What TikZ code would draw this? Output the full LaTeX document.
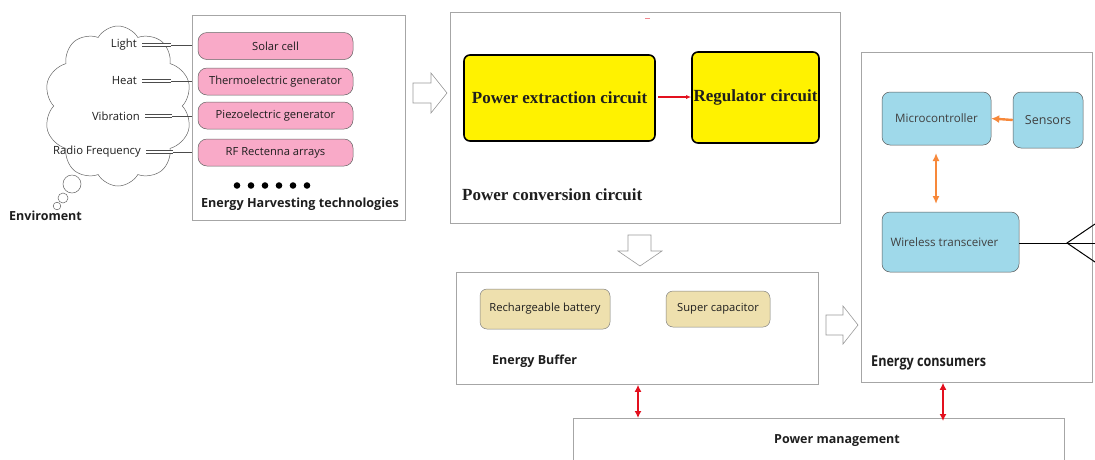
\documentclass[tikz,border=0pt]{standalone}
\usepackage{fontspec}
\setmainfont{Open Sans}
\newfontfamily\serifbold{Liberation Serif}
\newfontfamily\condsans[FakeStretch=0.84]{Open Sans}
\usetikzlibrary{shapes.symbols,arrows.meta,calc}
\definecolor{pinkfill}{HTML}{F9AAC8}
\definecolor{yellowfill}{HTML}{FFF200}
\definecolor{bluefill}{HTML}{9FD9EA}
\definecolor{tanfill}{HTML}{EEE0AE}
\definecolor{panelline}{HTML}{A6A6A6}
\definecolor{txt}{HTML}{1E1E1E}
\definecolor{orangearrow}{HTML}{F7883A}
\definecolor{redarrow}{HTML}{E3101E}
\tikzset{
  panel/.style={draw=panelline, line width=0.8pt, inner sep=0pt, anchor=north west},
  pinkbox/.style={draw=gray!80!black, line width=0.5pt, fill=pinkfill, rounded corners=9pt,
    minimum width=155pt, minimum height=27pt, inner sep=0pt, font=\fontsize{11.2}{13}\selectfont, text=txt},
  yellowbox/.style={draw=black, line width=1.6pt, fill=yellowfill, rounded corners=6pt, inner sep=0pt,
    font=\serifbold\bfseries\fontsize{17}{19}\selectfont, text=txt},
  bluebox/.style={draw=gray!70!black, line width=0.5pt, fill=bluefill, rounded corners=8pt, inner sep=0pt,
    font=\fontsize{11.6}{13}\selectfont, text=txt!85},
  tanbox/.style={draw=gray!60!black!70, line width=0.5pt, fill=tanfill, rounded corners=7pt, inner sep=0pt,
    font=\fontsize{11.2}{13}\selectfont, text=txt},
  srclabel/.style={anchor=east, inner sep=0pt, font=\fontsize{11.3}{13}\selectfont, text=txt},
  boldlabel/.style={inner sep=0pt, font=\bfseries\fontsize{12.5}{14}\selectfont, text=txt},
  hollow/.style={draw=gray!80, line width=0.6pt, fill=white},
  feed/.style={draw=gray!60!black, line width=0.6pt, double=white, double distance=2pt},
  redlink/.style={draw=redarrow, line width=2.2pt, {Latex[length=7pt,width=7pt]}-{Latex[length=7pt,width=7pt]}},
  orangelink/.style={draw=orangearrow, line width=2.4pt},
}
\begin{document}
\begin{tikzpicture}[x=1pt,y=-1pt]
\useasboundingbox (0,0) rectangle (1095,459);
\clip (0,0) rectangle (1095,459);
\fill[white] (0,0) rectangle (1095,459);

% ---------------- environment cloud ----------------
\node[cloud, cloud puffs=10, cloud puff arc=120, aspect=0.85, draw=gray!80!black, line width=0.5pt,
  minimum width=148pt, minimum height=160pt] (cloud) at (118,106) {};
\draw[gray!80!black, line width=0.5pt] (72,184) circle (9);
\draw[gray!80!black, line width=0.5pt] (63,198) circle (5);
\draw[gray!80!black, line width=0.5pt] (57,206) circle (3.8);
\node[boldlabel, anchor=west] (env) at (9,216) {Enviroment};

\node[srclabel] (light) at (137,45) {Light};
\node[srclabel] (heat) at (137,81) {Heat};
\node[srclabel] (vib) at (140,116) {Vibration};
\node[srclabel] (rf) at (141,152) {Radio Frequency};

% ---------------- harvesting panel ----------------
\node[panel, minimum width=213pt, minimum height=205pt] (harv) at (192,15) {};
\node[pinkbox] (solar) at (275.5,46) {Solar cell};
\node[pinkbox] (thermo) at (275.5,81.5) {Thermoelectric generator};
\node[pinkbox] (piezo) at (275.5,115.5) {Piezoelectric generator};
\node[pinkbox] (rfa) at (275.5,152.5) {RF Rectenna arrays};
\foreach \i in {0,...,5}
  \fill[black] (237+14*\i,185.5) circle (3.3);
\node[boldlabel, font=\bfseries\fontsize{12.6}{14}\selectfont] (harvlbl) at (300,204) {Energy Harvesting technologies};

% feed lines from sources into the harvesters
\foreach \s/\t in {light/solar, heat/thermo, vib/piezo, rf/rfa}{
  \coordinate (m\s) at ($(\s.east)!0.62!(\s.east -| harv.west)$);
  \draw[feed] ([xshift=5pt]\s.east) -- (m\s |- \s.east);
  \draw[gray!60!black, line width=0.7pt] (m\s |- \s.east) -- (\s.east -| harv.west);
}

% ---------------- power conversion panel ----------------
\node[panel, minimum width=390pt, minimum height=211pt] (conv) at (450,12) {};
\node[yellowbox, minimum width=191pt, minimum height=86pt] (extract) at (559.5,98) {Power extraction circuit};
\node[yellowbox, minimum width=127pt, minimum height=91pt] (reg) at (755.5,97.5) {Regulator circuit};
\draw[redarrow, line width=1.5pt, -{Latex[length=5pt,width=4pt]}] (658,97) coordinate (rs) -- (reg.west |- rs);
\draw[redarrow!50, line width=0.8pt] (645,18.5) -- (650,18.5);
\node[anchor=west, inner sep=0pt, font=\serifbold\bfseries\fontsize{17}{19}\selectfont, text=txt] (convlbl) at (462,195) {Power conversion circuit};

% ---------------- energy buffer panel ----------------
\node[panel, minimum width=362pt, minimum height=112pt] (buf) at (456,272) {};
\node[tanbox, minimum width=130pt, minimum height=40pt] (batt) at (545,309) {Rechargeable battery};
\node[tanbox, minimum width=104pt, minimum height=36pt] (cap) at (718,309) {Super capacitor};
\node[boldlabel, anchor=west] (buflbl) at (492,361) {Energy Buffer};

% ---------------- energy consumers panel ----------------
\node[panel, minimum width=231pt, minimum height=330pt] (cons) at (861,52) {};
\node[bluebox, minimum width=109pt, minimum height=53pt] (mcu) at (936.5,118.5) {Microcontroller};
\node[bluebox, minimum width=70pt, minimum height=56pt, font=\fontsize{12.5}{14}\selectfont] (sens) at (1048,120) {Sensors};
\node[bluebox, minimum width=137pt, minimum height=60pt] (wt) at (950.5,242) {\hspace*{-12pt}Wireless transceiver};
\node[anchor=west, inner sep=0pt, font=\condsans\bfseries\fontsize{15}{17}\selectfont, text=txt] (conslbl) at (871,363) {Energy consumers};

\draw[orangelink, -{Latex[length=8pt,width=8pt]}] (sens.west) -- (mcu.east);
\draw[orangelink, {Latex[length=8pt,width=7pt]}-{Latex[length=8pt,width=7pt]}] (936,153) coordinate (oa) -- (936,204) coordinate (ob);

% antenna
\coordinate (ant) at (1067,243);
\draw[black, line width=1pt] (wt.east |- ant) -- (1095,243);
\draw[black, line width=1pt] (1095,224) -- (ant) -- (1095,262);

% ---------------- power management ----------------
\node[panel, minimum width=491pt, minimum height=60pt] (pm) at (573,418) {};
\node[boldlabel] (pmlbl) at (837,441) {Power management};

\draw[redlink] (buf.south -| 638,0) -- (pm.north -| 638,0);
\draw[redlink] (cons.south -| 943,0) -- (943,421);

% ---------------- block arrows between stages ----------------
\draw[hollow] (413,83) -- (431,83) -- (431,73) -- (447,93) -- (431,113) -- (431,103) -- (413,103) -- cycle;
\draw[hollow] (628,235) -- (651,235) -- (651,251) -- (662,251) -- (640,266) -- (618,251) -- (628,251) -- cycle;
\draw[hollow] (826,315) -- (843,315) -- (843,306) -- (858,325) -- (843,344) -- (843,335) -- (826,335) -- cycle;
\end{tikzpicture}
\end{document}
